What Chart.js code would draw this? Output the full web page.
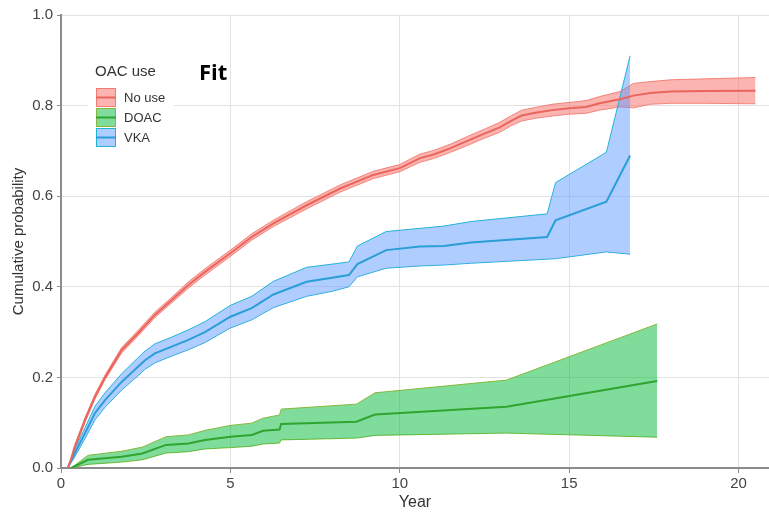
<!DOCTYPE html>
<html>
<head>
<meta charset="utf-8">
<script src="https://cdn.jsdelivr.net/npm/chart.js@4.4.1/dist/chart.umd.min.js"></script>
<style>
  body { margin: 0; background: #fff; }
  #wrap { width: 769px; height: 515px; }
</style>
</head>
<body>
<div id="wrap"><canvas id="myChart" width="769" height="515"></canvas></div>
<script>
// No use
const noUseYears = [0.2, 0.3, 0.41, 0.71, 1.0, 1.3, 1.79, 2.28, 2.77, 3.27, 3.76, 4.25, 5.0, 5.63, 6.27, 7.25, 8.24, 9.22, 10.0, 10.6, 11.0, 11.5, 12.0, 12.5, 12.95, 13.3, 13.6, 14.0, 14.5, 15.0, 15.5, 15.9, 16.5, 16.9, 17.4, 18.0, 19.0, 20.5];
const noUseEst  = [0, 0.02, 0.047, 0.106, 0.157, 0.2, 0.26, 0.298, 0.338, 0.371, 0.404, 0.433, 0.474, 0.51, 0.54, 0.58, 0.617, 0.647, 0.662, 0.684, 0.692, 0.706, 0.722, 0.738, 0.752, 0.767, 0.778, 0.784, 0.79, 0.794, 0.797, 0.805, 0.814, 0.822, 0.828, 0.831, 0.832, 0.833];
const noUseLow  = [0, 0.016, 0.042, 0.101, 0.152, 0.195, 0.254, 0.292, 0.332, 0.365, 0.397, 0.426, 0.467, 0.503, 0.533, 0.572, 0.609, 0.639, 0.654, 0.675, 0.683, 0.697, 0.712, 0.728, 0.741, 0.756, 0.766, 0.772, 0.777, 0.781, 0.783, 0.79, 0.797, 0.795, 0.803, 0.805, 0.805, 0.804];
const noUseHigh = [0, 0.024, 0.052, 0.111, 0.162, 0.205, 0.266, 0.304, 0.344, 0.377, 0.411, 0.44, 0.481, 0.517, 0.547, 0.588, 0.625, 0.655, 0.67, 0.693, 0.701, 0.715, 0.732, 0.748, 0.763, 0.778, 0.79, 0.796, 0.803, 0.807, 0.811, 0.82, 0.831, 0.849, 0.853, 0.857, 0.859, 0.862];

// DOAC
const doacYears = [0.3, 0.8, 1.79, 2.4, 3.1, 3.76, 4.25, 5.0, 5.63, 5.97, 6.45, 6.5, 8.72, 9.27, 13.15, 17.6];
const doacEst  = [0, 0.018, 0.025, 0.032, 0.051, 0.054, 0.062, 0.069, 0.073, 0.082, 0.085, 0.097, 0.102, 0.118, 0.135, 0.192];
const doacLow  = [0, 0.008, 0.013, 0.018, 0.033, 0.036, 0.042, 0.045, 0.048, 0.053, 0.055, 0.062, 0.066, 0.072, 0.077, 0.068];
const doacHigh = [0, 0.028, 0.037, 0.046, 0.069, 0.073, 0.083, 0.094, 0.099, 0.11, 0.117, 0.13, 0.141, 0.166, 0.194, 0.318];

// VKA
const vkaYears = [0.2, 0.41, 0.71, 1.0, 1.3, 1.79, 2.28, 2.48, 2.77, 3.27, 3.76, 4.25, 5.0, 5.63, 6.27, 7.25, 8.0, 8.5, 8.75, 9.6, 10.6, 11.3, 12.1, 14.35, 14.6, 16.1, 16.8];
const vkaEst  = [0, 0.033, 0.077, 0.121, 0.15, 0.19, 0.224, 0.238, 0.253, 0.268, 0.283, 0.3, 0.334, 0.353, 0.383, 0.411, 0.42, 0.426, 0.45, 0.481, 0.489, 0.49, 0.498, 0.51, 0.547, 0.588, 0.69];
const vkaLow  = [0, 0.025, 0.065, 0.106, 0.134, 0.172, 0.204, 0.218, 0.232, 0.247, 0.261, 0.277, 0.309, 0.327, 0.354, 0.379, 0.39, 0.4, 0.422, 0.441, 0.446, 0.448, 0.452, 0.461, 0.462, 0.477, 0.472];
const vkaHigh = [0, 0.041, 0.089, 0.136, 0.166, 0.208, 0.244, 0.258, 0.274, 0.289, 0.305, 0.323, 0.359, 0.379, 0.412, 0.443, 0.45, 0.455, 0.49, 0.522, 0.529, 0.534, 0.544, 0.561, 0.63, 0.697, 0.91];

const xTicks = [0, 5, 10, 15, 20];
const groups = ['No use', 'DOAC', 'VKA'];

const RED = { line: '#e9655d', band: 'rgba(248,118,109,0.55)', edge: 'rgba(240,110,100,0.8)' };
const GREEN = { line: '#2fa52f', band: 'rgba(0,186,56,0.5)', edge: '#86b83c' };
const BLUE = { line: '#2a9ed6', band: 'rgba(97,156,255,0.5)', edge: '#22b4d6' };
const colors = [RED, GREEN, BLUE];

let pts = (xs, ys) => xs.map((x, i) => ({ x: x, y: ys[i] }));

let band = (xs, hi, lo, c, order) => [
  { data: pts(xs, hi), borderColor: c.edge, borderWidth: 1, backgroundColor: c.band, fill: '+1', order: order },
  { data: pts(xs, lo), borderColor: c.edge, borderWidth: 1, fill: false, order: order }
];
let line = (xs, ys, c) => ({ data: pts(xs, ys), borderColor: c.line, borderWidth: 2, fill: false, order: 1 });

const legendPlugin = {
  id: 'oacLegend',
  afterDraw(chart) {
    const ctx = chart.ctx;
    ctx.save();
    ctx.fillStyle = '#fff';
    ctx.fillRect(88, 58, 86, 92);
    ctx.fillStyle = '#333';
    ctx.font = '15px "Liberation Sans Narrow", "Liberation Sans", Arial';
    ctx.textBaseline = 'middle';
    ctx.fillText('OAC use', 95, 72);
    ctx.font = '13px "Liberation Sans Narrow", "Liberation Sans", Arial';
    groups.forEach((g, i) => {
      const c = colors[i];
      const y = 88 + i * 20;
      ctx.fillStyle = c.band;
      ctx.fillRect(96, y, 20, 19);
      ctx.strokeStyle = c.edge;
      ctx.lineWidth = 1;
      ctx.strokeRect(96.5, y + 0.5, 19, 18);
      ctx.strokeStyle = c.line;
      ctx.lineWidth = 2;
      ctx.beginPath();
      ctx.moveTo(96, y + 9.5);
      ctx.lineTo(116, y + 9.5);
      ctx.stroke();
      ctx.fillStyle = '#333';
      ctx.fillText(g, 124, y + 10);
    });
    ctx.fillStyle = '#000';
    ctx.font = 'bold 22px "Open Sans", Arial';
    ctx.fillText('Fit', 199, 74);
    ctx.restore();
  }
};

const tickFont = { family: '"Liberation Sans Narrow", "Liberation Sans", Arial', size: 15 };

const config = {
  type: 'line',
  data: {
    datasets: [
      ...band(noUseYears, noUseHigh, noUseLow, RED, 6),
      ...band(doacYears, doacHigh, doacLow, GREEN, 5),
      ...band(vkaYears, vkaHigh, vkaLow, BLUE, 4),
      line(noUseYears, noUseEst, RED),
      line(doacYears, doacEst, GREEN),
      line(vkaYears, vkaEst, BLUE)
    ]
  },
  options: {
    responsive: false,
    animation: false,
    elements: { point: { radius: 0 }, line: { tension: 0 } },
    layout: { padding: { top: 15, right: 0, left: 0, bottom: 0 } },
    plugins: { legend: { display: false }, tooltip: { enabled: false } },
    scales: {
      x: {
        type: 'linear',
        min: 0,
        max: 20.9,
        afterFit: (s) => { s.height = 47; },
        afterBuildTicks: (s) => { s.ticks = xTicks.map(v => ({ value: v })); },
        ticks: { font: tickFont, color: '#444', padding: 2, maxRotation: 0 },
        grid: { color: '#e2e2e2', tickColor: '#8c8c8c', tickLength: 5 },
        border: { color: '#8c8c8c', width: 2 },
        title: { display: true, text: 'Year', font: { family: tickFont.family, size: 16 }, color: '#333', padding: { top: 0, bottom: 3 } }
      },
      y: {
        min: 0,
        max: 1,
        afterFit: (s) => { s.width = 61; },
        ticks: { stepSize: 0.2, font: tickFont, color: '#444', padding: 4, callback: (v) => v.toFixed(1) },
        grid: { color: '#e2e2e2', tickColor: '#8c8c8c', tickLength: 4 },
        border: { color: '#8c8c8c', width: 2 },
        title: { display: true, text: 'Cumulative probability', font: { family: tickFont.family, size: 15 }, color: '#333', padding: { top: 10, bottom: 0 } }
      }
    }
  },
  plugins: [legendPlugin]
};

const chart = new Chart(document.getElementById('myChart'), config);
</script>
</body>
</html>
